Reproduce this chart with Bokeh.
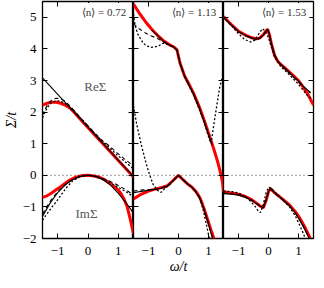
from bokeh.plotting import figure
from bokeh.layouts import row
from bokeh.models import Label, Span, LinearAxis, FixedTicker, Range1d, CustomLabelingPolicy
from bokeh.embed import file_html
from bokeh.resources import INLINE

FONT = "Liberation Serif"
X_TICKS = [-1, 0, 1]
Y_TICKS = [-2, -1, 0, 1, 2, 3, 4, 5]
X_LIM = (-1.5, 1.5)
Y_LIM = (-2.0, 5.5)
DENSITIES = ["0.72", "1.13", "1.53"]

# ---------------- panel 1: <n> = 0.72 ----------------
p1_re_red_x = [-1.5, -1.35, -1.2, -1.05, -0.9, -0.75, -0.6, -0.45, -0.2, 0.2, 0.6, 1.0, 1.5]
p1_re_red_y = [2.22, 2.28, 2.31, 2.31, 2.28, 2.22, 2.13, 1.99, 1.72, 1.30, 0.89, 0.47, -0.05]
p1_re_blk_x = [-1.5, 1.5]
p1_re_blk_y = [3.08, -0.04]
p1_re_dash_x = [-1.5, -1.42, -1.32, -1.2, -1.05, -0.9, -0.75, -0.55, -0.2, 0.2, 0.45, 0.7, 0.95, 1.2, 1.5]
p1_re_dash_y = [1.90, 2.08, 2.25, 2.38, 2.44, 2.42, 2.34, 2.15, 1.77, 1.36, 1.12, 0.93, 0.72, 0.52, 0.30]
p1_re_dot_x = [-1.5, -1.42, -1.32, -1.2, -1.05, -0.9, -0.7, -0.5, -0.2, 0.2, 0.45, 0.7, 0.95, 1.2, 1.5]
p1_re_dot_y = [1.82, 2.00, 2.17, 2.30, 2.36, 2.34, 2.24, 2.06, 1.76, 1.34, 1.10, 0.88, 0.65, 0.45, 0.20]
p1_im_red_x = [-1.5, -1.35, -1.2, -1.05, -0.9, -0.75, -0.6, -0.4, -0.2, 0.0, 0.2, 0.4, 0.6, 0.8, 1.0, 1.1, 1.2, 1.3, 1.4, 1.5]
p1_im_red_y = [-0.70, -0.65, -0.56, -0.46, -0.36, -0.25, -0.15, -0.06, -0.01, 0.0, -0.02, -0.07, -0.17, -0.30, -0.47, -0.60, -0.78, -1.02, -1.42, -1.85]
p1_im_blk_x = [-1.5, -1.25, -1.0, -0.75, -0.5, -0.25, 0.0, 0.25, 0.5, 0.75, 1.0, 1.25, 1.5]
p1_im_blk_y = [-1.30, -0.88, -0.55, -0.30, -0.13, -0.03, 0.0, -0.03, -0.14, -0.32, -0.57, -0.86, -1.20]
p1_im_dash_x = [-1.5, -1.35, -1.2, -1.05, -0.9, -0.7, -0.5, -0.25, 0.0, 0.25, 0.5, 0.75, 1.0, 1.25, 1.5]
p1_im_dash_y = [-1.22, -0.98, -0.76, -0.58, -0.43, -0.26, -0.12, -0.03, 0.0, -0.03, -0.10, -0.20, -0.32, -0.46, -0.62]
p1_im_dot_x = [-1.5, -1.35, -1.2, -1.05, -0.9, -0.7, -0.5, -0.25, 0.0, 0.25, 0.5, 0.75, 1.0, 1.25, 1.5]
p1_im_dot_y = [-1.42, -1.22, -1.02, -0.84, -0.64, -0.38, -0.17, -0.04, 0.0, -0.04, -0.13, -0.25, -0.38, -0.52, -0.68]

# ---------------- panel 2: <n> = 1.13 ----------------
p2_re_red_x = [-1.5, -1.3, -1.1, -0.9, -0.7, -0.5, -0.3, -0.15, -0.05, 0.05, 0.2, 0.35, 0.5, 0.7, 0.9, 1.05, 1.2, 1.32, 1.42, 1.47, 1.5]
p2_re_red_y = [5.42, 5.12, 4.86, 4.63, 4.43, 4.26, 4.13, 4.06, 3.97, 3.55, 3.15, 2.88, 2.60, 2.15, 1.62, 1.20, 0.76, 0.38, 0.0, -0.25, -0.50]
p2_re_blk_x = [-0.9, -0.7, -0.5, -0.3, -0.15, -0.05, 0.05, 0.2, 0.35, 0.5, 0.7, 0.9, 1.05, 1.13]
p2_re_blk_y = [4.60, 4.42, 4.24, 4.12, 4.05, 3.97, 3.55, 3.15, 2.86, 2.58, 2.12, 1.58, 1.15, 0.95]
p2_re_dash_x = [-1.5, -1.3, -1.1, -0.9, -0.7, -0.5, -0.3, -0.15, -0.05, 0.05, 0.2, 0.35, 0.5, 0.7, 0.9, 1.05, 1.13]
p2_re_dash_y = [4.80, 4.63, 4.50, 4.41, 4.33, 4.22, 4.12, 4.05, 3.96, 3.55, 3.15, 2.86, 2.58, 2.12, 1.58, 1.15, 0.95]
p2_re_dot_x = [-1.5, -1.45, -1.35, -1.2, -1.08, -0.9, -0.7, -0.5, -0.3, -0.15, -0.05, 0.05, 0.2, 0.35, 0.5, 0.7, 0.85, 0.95, 1.05, 1.1, 1.2, 1.3, 1.38, 1.46]
p2_re_dot_y = [5.10, 4.75, 4.45, 4.22, 4.10, 4.05, 4.08, 4.18, 4.12, 4.05, 3.95, 3.55, 3.12, 2.84, 2.55, 2.08, 1.70, 1.38, 1.08, 1.10, 1.75, 2.35, 2.82, 3.10]
p2_im_red_x = [-1.5, -1.25, -1.0, -0.75, -0.5, -0.37, -0.2, -0.1, 0.0, 0.15, 0.3, 0.45, 0.6, 0.72, 0.85, 0.97, 1.08, 1.18, 1.25]
p2_im_red_y = [-0.75, -0.60, -0.50, -0.43, -0.37, -0.33, -0.18, -0.09, 0.0, -0.14, -0.27, -0.38, -0.54, -0.72, -1.05, -1.40, -1.72, -2.00, -2.25]
p2_im_blk_x = [-1.5, -1.2, -0.9, -0.6, -0.4, -0.2, -0.1, 0.0, 0.15, 0.3, 0.45, 0.6, 0.72, 0.85, 0.97, 1.06, 1.14]
p2_im_blk_y = [-0.55, -0.50, -0.46, -0.42, -0.35, -0.19, -0.09, 0.0, -0.14, -0.27, -0.38, -0.55, -0.74, -1.08, -1.45, -1.75, -2.00]
p2_im_dash_x = [-1.5, -1.3, -1.0, -0.7, -0.5, -0.3, -0.15, 0.0, 0.15, 0.3, 0.45, 0.6, 0.72, 0.85, 0.97, 1.06, 1.14]
p2_im_dash_y = [-0.50, -0.47, -0.45, -0.44, -0.38, -0.30, -0.15, 0.0, -0.14, -0.27, -0.38, -0.54, -0.73, -1.06, -1.43, -1.74, -2.00]
p2_im_dot_x = [-1.5, -1.4, -1.25, -1.1, -1.0, -0.85, -0.7, -0.58, -0.48, -0.3, -0.15, 0.0, 0.15, 0.3, 0.45, 0.6, 0.72, 0.82, 0.9, 0.97, 1.03]
p2_im_dot_y = [2.20, 1.65, 1.00, 0.45, 0.12, -0.28, -0.48, -0.54, -0.44, -0.30, -0.14, 0.0, -0.14, -0.27, -0.38, -0.55, -0.76, -1.08, -1.42, -1.75, -2.00]

# ---------------- panel 3: <n> = 1.53 ----------------
p3_re_red_x = [-1.5, -1.25, -1.0, -0.75, -0.55, -0.4, -0.3, -0.18, -0.08, -0.03, 0.03, 0.1, 0.2, 0.3, 0.42, 0.6, 0.8, 1.0, 1.15, 1.3, 1.5]
p3_re_red_y = [5.02, 4.78, 4.56, 4.43, 4.35, 4.32, 4.34, 4.44, 4.57, 4.62, 4.45, 4.15, 3.80, 3.62, 3.50, 3.35, 3.18, 3.00, 2.80, 2.58, 2.22]
p3_re_blk_x = [-1.5, -1.25, -1.0, -0.75, -0.55, -0.4, -0.3, -0.18, -0.08, -0.03, 0.03, 0.1, 0.2, 0.3, 0.42, 0.6, 0.8, 1.0, 1.15, 1.3, 1.4]
p3_re_blk_y = [5.00, 4.77, 4.55, 4.42, 4.34, 4.31, 4.33, 4.43, 4.56, 4.62, 4.46, 4.16, 3.82, 3.63, 3.50, 3.34, 3.16, 2.98, 2.83, 2.70, 2.62]
p3_re_dash_x = [-1.5, -1.25, -1.0, -0.75, -0.55, -0.4, -0.3, -0.18, -0.08, -0.03, 0.03, 0.1, 0.2, 0.3, 0.42, 0.6, 0.8, 1.0, 1.15, 1.3, 1.4]
p3_re_dash_y = [5.00, 4.76, 4.54, 4.41, 4.33, 4.30, 4.33, 4.44, 4.57, 4.63, 4.47, 4.15, 3.80, 3.62, 3.49, 3.32, 3.14, 2.96, 2.82, 2.68, 2.60]
p3_re_dot_x = [-1.5, -1.2, -1.0, -0.8, -0.6, -0.45, -0.32, -0.2, -0.1, 0.0, 0.1, 0.2, 0.4, 0.6, 0.8, 1.0, 1.15, 1.3, 1.45]
p3_re_dot_y = [5.00, 4.70, 4.48, 4.30, 4.22, 4.28, 4.48, 4.64, 4.55, 4.35, 4.05, 3.76, 3.45, 3.27, 3.08, 2.88, 2.70, 2.52, 2.42]
p3_im_red_x = [-1.5, -1.25, -1.0, -0.75, -0.55, -0.4, -0.28, -0.17, -0.08, 0.0, 0.07, 0.2, 0.45, 0.7, 0.9, 1.06, 1.2, 1.39, 1.5]
p3_im_red_y = [-0.52, -0.56, -0.60, -0.68, -0.78, -0.88, -0.97, -1.03, -0.80, -0.52, -0.42, -0.55, -0.74, -0.94, -1.16, -1.38, -1.62, -1.99, -2.20]
p3_im_blk_x = [-1.5, -1.25, -1.0, -0.75, -0.55, -0.4, -0.28, -0.17, -0.08, 0.0, 0.07, 0.2, 0.45, 0.7, 0.9, 1.06, 1.2, 1.36]
p3_im_blk_y = [-0.58, -0.60, -0.62, -0.70, -0.80, -0.90, -0.98, -1.02, -0.78, -0.50, -0.42, -0.55, -0.75, -0.96, -1.20, -1.45, -1.70, -2.00]
p3_im_dash_x = [-1.5, -1.25, -1.0, -0.75, -0.55, -0.4, -0.28, -0.17, -0.08, 0.0, 0.07, 0.2, 0.45, 0.7, 0.9, 1.06, 1.2, 1.36]
p3_im_dash_y = [-0.55, -0.58, -0.62, -0.69, -0.79, -0.89, -0.97, -1.02, -0.80, -0.52, -0.43, -0.56, -0.76, -0.97, -1.20, -1.44, -1.68, -2.00]
p3_im_dot_x = [-1.5, -1.2, -1.0, -0.8, -0.6, -0.45, -0.35, -0.27, -0.18, -0.08, 0.0, 0.08, 0.2, 0.45, 0.7, 0.9, 1.05, 1.15, 1.25]
p3_im_dot_y = [-0.50, -0.52, -0.56, -0.66, -0.82, -0.98, -1.12, -1.18, -0.95, -0.55, -0.38, -0.40, -0.52, -0.76, -1.00, -1.30, -1.60, -1.82, -2.05]

RED = dict(line_color="#ff0000", line_width=3.0)
SOLID = dict(line_color="black", line_width=1.1)
DASH = dict(line_color="black", line_width=1.1, line_dash="4 3")
DOT = dict(line_color="black", line_width=1.3, line_dash="2 2")

PANELS = [
    [(p1_re_red_x, p1_re_red_y, RED), (p1_im_red_x, p1_im_red_y, RED),
     (p1_re_blk_x, p1_re_blk_y, SOLID), (p1_im_blk_x, p1_im_blk_y, SOLID),
     (p1_re_dash_x, p1_re_dash_y, DASH), (p1_im_dash_x, p1_im_dash_y, DASH),
     (p1_re_dot_x, p1_re_dot_y, DOT), (p1_im_dot_x, p1_im_dot_y, DOT)],
    [(p2_re_red_x, p2_re_red_y, RED), (p2_im_red_x, p2_im_red_y, RED),
     (p2_re_blk_x, p2_re_blk_y, SOLID), (p2_im_blk_x, p2_im_blk_y, SOLID),
     (p2_re_dash_x, p2_re_dash_y, DASH), (p2_im_dash_x, p2_im_dash_y, DASH),
     (p2_re_dot_x, p2_re_dot_y, DOT), (p2_im_dot_x, p2_im_dot_y, DOT)],
    [(p3_re_red_x, p3_re_red_y, RED), (p3_im_red_x, p3_im_red_y, RED),
     (p3_re_blk_x, p3_re_blk_y, SOLID), (p3_im_blk_x, p3_im_blk_y, SOLID),
     (p3_re_dash_x, p3_re_dash_y, DASH), (p3_im_dash_x, p3_im_dash_y, DASH),
     (p3_re_dot_x, p3_re_dot_y, DOT), (p3_im_dot_x, p3_im_dot_y, DOT)],
]


def minus(t):
    return "\u2212%d" % (-t) if t < 0 else "%d" % t


def add_axis(p, side, ticks, labels, axis_label=None):
    ax = LinearAxis(ticker=FixedTicker(ticks=ticks))
    ax.axis_line_color = None
    ax.major_tick_in = 5
    ax.major_tick_out = 0
    ax.major_tick_line_color = "black"
    ax.major_tick_line_width = 1
    ax.minor_tick_line_color = None
    if labels:
        ax.major_label_text_font = FONT
        ax.major_label_text_font_size = "13px"
        ax.major_label_text_color = "black"
        ax.major_label_overrides = {t: minus(t) for t in ticks}
        ax.major_label_standoff = 6 if side == "left" else 8
    else:
        # tick marks only: no labels are drawn at all
        ax.major_label_text_font_size = "0px"
        ax.major_label_standoff = 0
        ax.major_label_policy = CustomLabelingPolicy(code="return []")
    if axis_label:
        ax.axis_label = axis_label
        ax.axis_label_text_font = FONT
        ax.axis_label_text_font_size = "14px"
        ax.axis_label_text_font_style = "italic"
        ax.axis_label_text_color = "black"
        ax.axis_label_standoff = 1
    p.add_layout(ax, side)
    return ax


FRAME_W = [91, 90, 90]
figs = []
for i in range(3):
    p = figure(frame_width=FRAME_W[i], frame_height=237,
               x_range=Range1d(*X_LIM), y_range=Range1d(*Y_LIM),
               x_axis_type=None, y_axis_type=None,
               output_backend="svg", toolbar_location=None,
               min_border_left=34 if i == 0 else 0,
               min_border_right=2 if i == 2 else 0,
               min_border_top=1, min_border_bottom=34)
    p.outline_line_color = "black"
    p.outline_line_width = 1.3
    p.background_fill_color = "white"
    p.border_fill_color = "white"

    add_axis(p, "below", X_TICKS, True, "\u03c9/t" if i == 1 else None)
    add_axis(p, "above", X_TICKS, False)
    add_axis(p, "left", Y_TICKS, i == 0, "\u03a3/t" if i == 0 else None)
    add_axis(p, "right", Y_TICKS, False)

    p.add_layout(Span(location=0, dimension="width", line_color="black",
                      line_width=0.8, line_dash="1 3"))

    for xs, ys, st in PANELS[i]:
        p.line(xs, ys, **st)

    p.add_layout(Label(x=1.36, y=5.17, text="\u27e8n\u27e9 = " + DENSITIES[i],
                       text_align="right", text_baseline="middle",
                       text_font=FONT, text_font_size="11px", text_color="#333333",
                       background_fill_color="white", padding=3))
    if i == 0:
        p.add_layout(Label(x=0.24, y=2.8, text="Re\u03a3", text_align="center",
                           text_baseline="middle", text_font=FONT,
                           text_font_size="13px", text_color="#555555"))
        p.add_layout(Label(x=-0.05, y=-1.2, text="Im\u03a3", text_align="center",
                           text_baseline="middle", text_font=FONT,
                           text_font_size="13px", text_color="#555555"))
    figs.append(p)

layout = row(*figs)
open("out.html", "w").write(file_html(layout, INLINE))
